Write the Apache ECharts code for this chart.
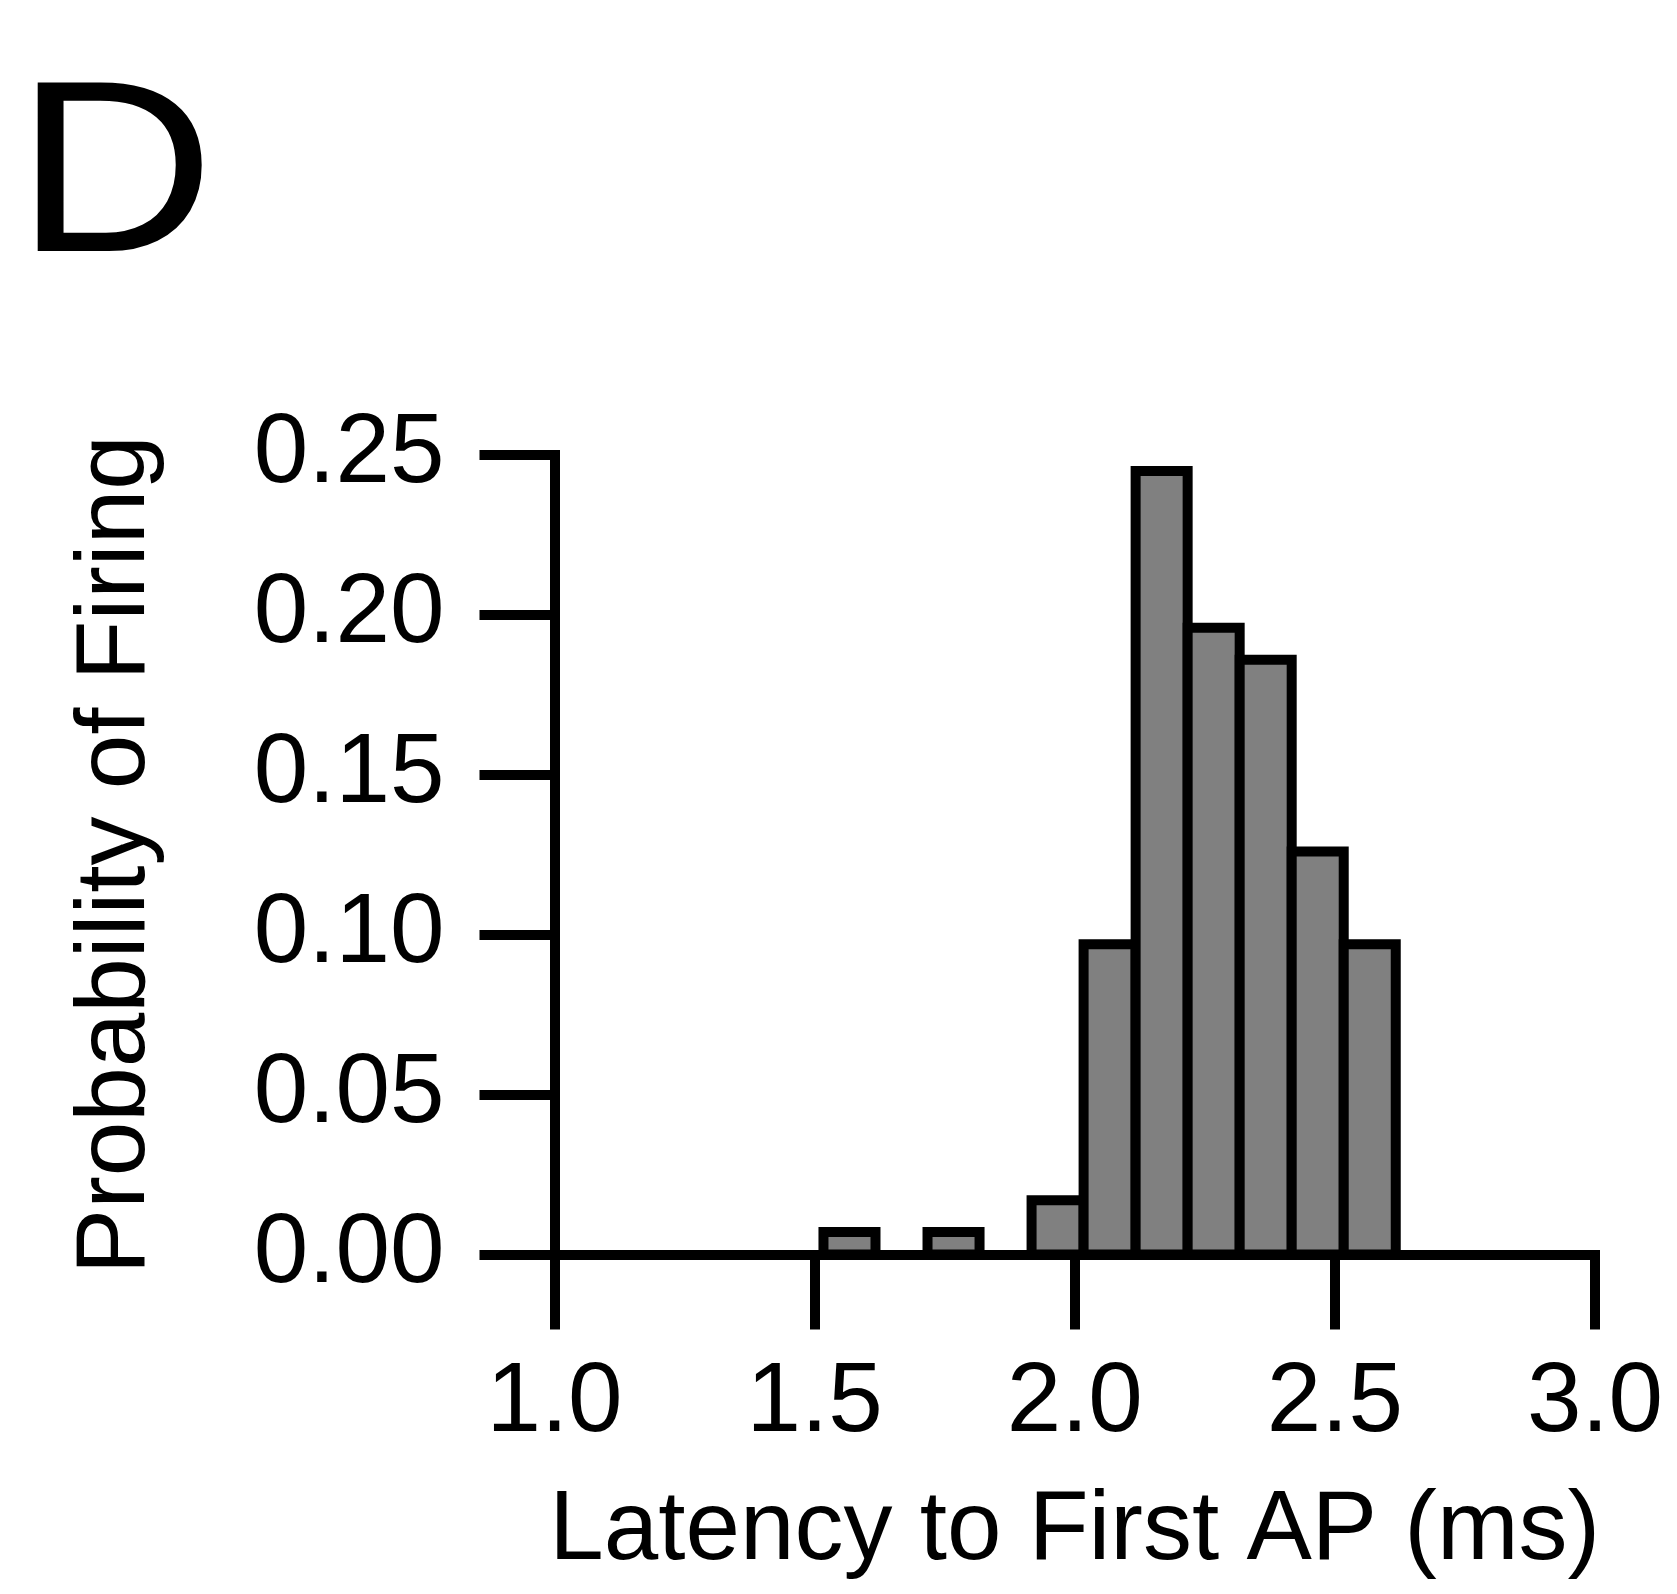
<!DOCTYPE html>
<html>
<head>
<meta charset="utf-8">
<title>Latency to First AP</title>
<script src="https://cdn.jsdelivr.net/npm/echarts@6/dist/echarts.min.js"></script>
<style>
    html, body {
        margin: 0;
        padding: 0;
        background: #fff;
    }
    #chart {
        width: 1677px;
        height: 1594px;
    }
</style>
</head>
<body>
<div id="chart"></div>
<script>
// histogram bin edges (ms) and probability per bin
const binEdges = [1.517, 1.617, 1.717, 1.817, 1.917, 2.017, 2.117, 2.217, 2.317, 2.417, 2.517, 2.617];
const probabilities = [0.007, 0, 0.007, 0, 0.017, 0.097, 0.245, 0.196, 0.186, 0.126, 0.097];

const xTicks = ["1.0", "1.5", "2.0", "2.5", "3.0"];
const yTicks = ["0.00", "0.05", "0.10", "0.15", "0.20", "0.25"];

const font = "'Liberation Sans', Arial, Helvetica, sans-serif";

// [left edge, right edge, value]
const bins = probabilities.map((p, i) => [binEdges[i], binEdges[i + 1], p]);

const myChart = echarts.init(document.getElementById("chart"));

myChart.setOption({
    animation: false,
    backgroundColor: "#fff",
    // panel letter
    graphic: [
        {
            type: "text",
            x: 15,
            y: 61,
            scaleX: 1.13,
            style: {
                text: "D",
                fontFamily: font,
                fontSize: 245,
                fill: "#000",
                verticalAlign: "top",
            },
        },
    ],
    grid: {
        left: 554.5,
        right: 82,
        top: 455,
        bottom: 339.5,
        containLabel: false,
        outerBoundsMode: "none",
    },
    xAxis: {
        type: "value",
        min: 1,
        max: 3,
        interval: 0.5,
        name: "Latency to First AP (ms)",
        nameLocation: "middle",
        nameGap: 228,
        nameTextStyle: { fontFamily: font, fontSize: 98, color: "#000" },
        axisLine: { lineStyle: { color: "#000", width: 10, cap: "square" } },
        axisTick: { length: 75, lineStyle: { color: "#000", width: 10 } },
        axisLabel: {
            fontFamily: font,
            fontSize: 98,
            color: "#000",
            margin: 100,
            formatter: (v) => xTicks[Math.round((v - 1) / 0.5)],
        },
        splitLine: { show: false },
    },
    yAxis: {
        type: "value",
        min: 0,
        max: 0.25,
        interval: 0.05,
        name: "Probability of Firing",
        nameLocation: "middle",
        nameGap: 389,
        nameTextStyle: { fontFamily: font, fontSize: 98, color: "#000" },
        axisLine: { lineStyle: { color: "#000", width: 10, cap: "square" } },
        axisTick: { length: 75, lineStyle: { color: "#000", width: 10 } },
        axisLabel: {
            fontFamily: font,
            fontSize: 98,
            color: "#000",
            margin: 110,
            formatter: (v) => yTicks[Math.round(v / 0.05)],
        },
        splitLine: { show: false },
    },
    series: [
        {
            type: "custom",
            data: bins,
            encode: { x: [0, 1], y: 2 },
            renderItem: (params, api) => {
                if (api.value(2) <= 0) return null;
                const topLeft = api.coord([api.value(0), api.value(2)]);
                const bottomRight = api.coord([api.value(1), 0]);
                return {
                    type: "rect",
                    shape: {
                        x: topLeft[0],
                        y: topLeft[1],
                        width: bottomRight[0] - topLeft[0],
                        height: bottomRight[1] - topLeft[1],
                    },
                    style: { fill: "#808080", stroke: "#000", lineWidth: 10 },
                };
            },
        },
    ],
});
</script>
</body>
</html>
